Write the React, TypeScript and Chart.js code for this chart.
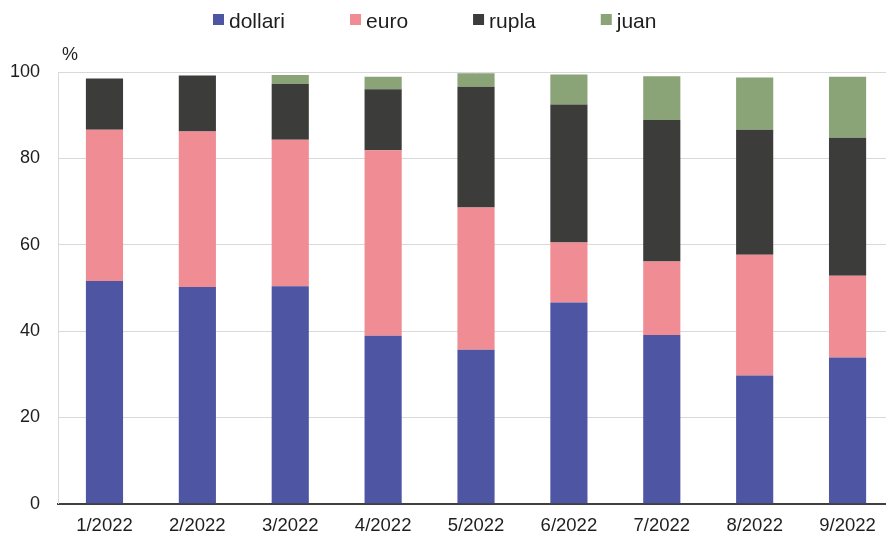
import React, { useEffect, useRef } from "react";
import { Chart, registerables } from "chart.js";

Chart.register(...registerables);

const categories = ["1/2022", "2/2022", "3/2022", "4/2022", "5/2022", "6/2022", "7/2022", "8/2022", "9/2022"];
const dollari = [51.6, 50.2, 50.4, 38.9, 35.7, 46.6, 39.1, 29.7, 33.9];
const euro = [35.0, 36.0, 33.9, 43.0, 32.9, 13.9, 17.0, 28.0, 18.9];
const rupla = [11.9, 13.0, 12.9, 14.1, 28.0, 32.0, 32.8, 28.9, 32.0];
const juan = [0, 0, 2.1, 2.9, 3.1, 6.9, 10.1, 12.1, 14.1];
const seriesNames = ["dollari", "euro", "rupla", "juan"];
const colors = ["#4E55A3", "#F08C93", "#3C3C3A", "#8AA477"];
const yUnit = "%";

const FONT = "'Liberation Sans', Arial, sans-serif";
const TEXT = "#1e1e1e";

const legendPlugin = {
  id: "customLegend",
  afterDraw(chart: any) {
    const ctx = chart.ctx;
    ctx.save();
    ctx.font = `21px ${FONT}`;
    ctx.textBaseline = "alphabetic";
    ctx.textAlign = "left";
    let x = 213;
    chart.data.datasets.forEach((ds: any) => {
      ctx.fillStyle = ds.backgroundColor;
      ctx.fillRect(x, 14, 11, 11);
      ctx.fillStyle = TEXT;
      const tx = x + 16;
      ctx.fillText(ds.label, tx, 27.5);
      x = tx + ctx.measureText(ds.label).width + 65;
    });
    // unit label
    ctx.font = `18px ${FONT}`;
    ctx.fillText(yUnit, 62, 60);
    ctx.restore();
  },
};

export default function App() {
  const ref = useRef<HTMLCanvasElement>(null);
  useEffect(() => {
    if (!ref.current) return;
    const data = [dollari, euro, rupla, juan];
    const chart = new Chart(ref.current, {
      type: "bar",
      data: {
        labels: categories,
        datasets: seriesNames.map((name, i) => ({
          label: name,
          data: data[i],
          backgroundColor: colors[i],
          borderWidth: 0,
          barPercentage: 0.4,
          categoryPercentage: 1,
        })),
      },
      options: {
        responsive: false,
        animation: false,
        layout: { padding: { top: 72, left: -8, right: 6, bottom: -14 } },
        plugins: { legend: { display: false }, tooltip: { enabled: false } },
        scales: {
          x: {
            stacked: true,
            grid: { display: false, drawTicks: false },
            border: { display: true, color: "#3f3f3f", width: 2 },
            ticks: { color: TEXT, font: { family: FONT, size: 18.5 }, padding: 11, maxRotation: 0 },
          },
          y: {
            stacked: true,
            min: 0,
            max: 100,
            grid: { color: "#d9d9d9", lineWidth: 1, drawTicks: false },
            border: { display: true, color: "#d9d9d9", width: 1 },
            ticks: { stepSize: 20, color: TEXT, font: { family: FONT, size: 18 }, padding: 18 },
          },
        },
      },
      plugins: [legendPlugin],
    });
    return () => chart.destroy();
  }, []);
  return (
    <div style={{ position: "fixed", left: 0, top: 0, width: 900, height: 534, background: "#fff" }}>
      <canvas ref={ref} width={900} height={534} style={{ width: 900, height: 534, display: "block" }} />
    </div>
  );
}
